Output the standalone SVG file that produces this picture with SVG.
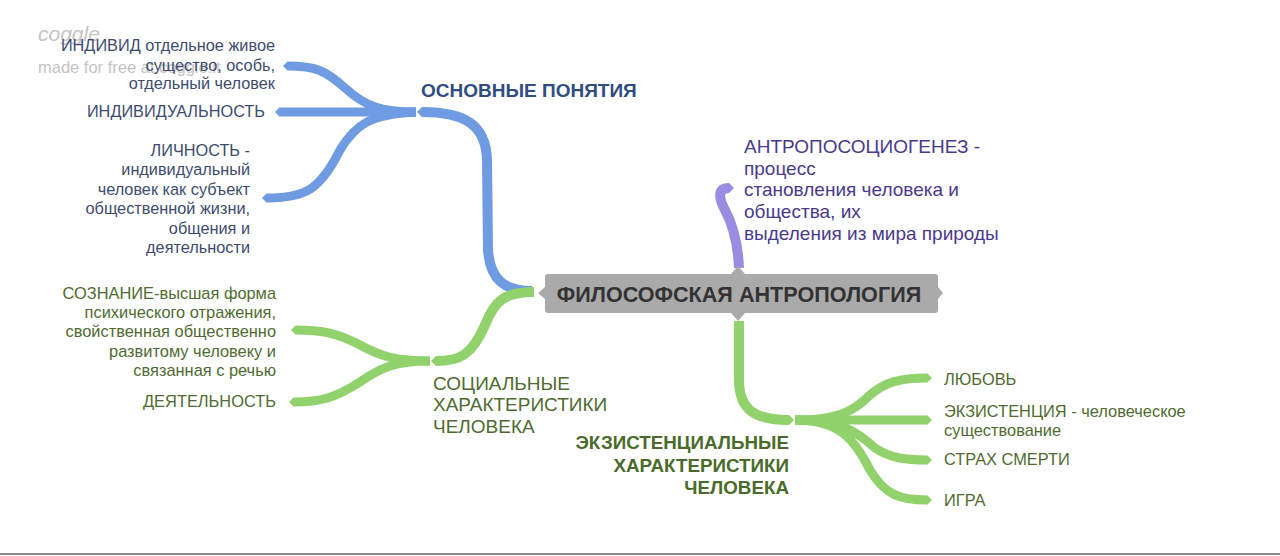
<svg xmlns="http://www.w3.org/2000/svg" width="1280" height="556" viewBox="0 0 1280 556">
<defs>
<style>
.t{font-family:"Liberation Sans",Arial,sans-serif}
.br{fill:none;stroke-linecap:butt;stroke-linejoin:round}
.blue{stroke:#6f9be2}
.green{stroke:#92d26c}
.purple{stroke:#9a8ce2}
.bt{fill:#3d4c6e;font-size:16.3px}
.gt{fill:#506b31;font-size:16.4px}
.pt{fill:#4a3a8c;font-size:19px}
.wm{fill:#c4c4c4}
</style>
<marker id="tb" markerUnits="userSpaceOnUse" markerWidth="8" markerHeight="12" refX="0" refY="6" orient="auto"><path d="M0,1 L5,6 L0,11 Z" fill="#6f9be2"/></marker>
<marker id="tg" markerUnits="userSpaceOnUse" markerWidth="8" markerHeight="12" refX="0" refY="6" orient="auto"><path d="M0,1 L5,6 L0,11 Z" fill="#92d26c"/></marker>
<marker id="tp" markerUnits="userSpaceOnUse" markerWidth="8" markerHeight="12" refX="0" refY="6" orient="auto"><path d="M0,1 L5,6 L0,11 Z" fill="#9a8ce2"/></marker>
</defs>
<rect width="1280" height="556" fill="#ffffff"/>
<g id="watermark">
<text class="t wm" x="38" y="41" font-size="21" font-style="italic" fill="#b0b0b0">coggle</text>
<text class="t wm" x="38" y="73" font-size="16.5">made for free at coggle.it</text>
</g>
<g id="connectors">
<path class="br blue" stroke-width="10" d="M532,291 C505,291 490,280 488,250 L487,160 C486,125 465,112 422,112" marker-end="url(#tb)"/>
<path class="br blue" stroke-width="9" d="M416,112 C380,112 365,106 345,88 C325,70 315,66 288,66" marker-end="url(#tb)"/>
<path class="br blue" stroke-width="9" d="M416,112 L280,112" marker-end="url(#tb)"/>
<path class="br blue" stroke-width="9" d="M416,112 C370,114 355,125 340,150 C320,190 305,198 267,198" marker-end="url(#tb)"/>
<path class="br green" stroke-width="10" d="M534,292 C505,292 495,300 485,325 C472,355 460,361 436,361" marker-end="url(#tg)"/>
<path class="br green" stroke-width="9" d="M430,361 C395,361 380,356 360,345 C335,332 320,330 296,330" marker-end="url(#tg)"/>
<path class="br green" stroke-width="9" d="M430,361 C395,361 380,368 360,382 C335,398 320,402 294,402" marker-end="url(#tg)"/>
<path class="br purple" stroke-width="10" d="M739,268 C738,245 733,225 725,210 C718,197 718,188 729,188" marker-end="url(#tp)"/>
<path class="br green" stroke-width="10" d="M739,321 L739,380 C739,410 755,420 789,420" marker-end="url(#tg)"/>
<path class="br green" stroke-width="9" d="M795,420 C840,420 855,410 870,395 C885,382 900,378 927,378" marker-end="url(#tg)"/>
<path class="br green" stroke-width="9" d="M795,420 L927,420" marker-end="url(#tg)"/>
<path class="br green" stroke-width="9" d="M795,420 C845,420 860,435 875,448 C890,458 905,460 927,460" marker-end="url(#tg)"/>
<path class="br green" stroke-width="9" d="M795,420 C840,420 855,440 870,470 C885,495 900,500 927,500" marker-end="url(#tg)"/>
</g>
<g id="central">
<path d="M548,274 H935 Q938,274 938,277 V287 L943,293 L938,299 V310 Q938,313 935,313 H745 L738,321 L731,313 H548 Q545,313 545,310 V299 L538,293 L545,287 V277 Q545,274 548,274 Z M731,274 L738,266 L745,274 Z" fill="#aaaaaa"/>
<text class="t" x="739" y="301.5" font-size="21.6" font-weight="bold" fill="#333333" text-anchor="middle">ФИЛОСОФСКАЯ АНТРОПОЛОГИЯ</text>
</g>
<g id="osnovnye">
<text class="t" x="421" y="97" font-size="19" font-weight="bold" fill="#2f4d80">ОСНОВНЫЕ ПОНЯТИЯ</text>
</g>
<g id="individ">
<text class="t bt" text-anchor="end"><tspan x="275" y="51">ИНДИВИД отдельное живое</tspan><tspan x="275" y="71">существо, особь,</tspan><tspan x="275" y="89">отдельный человек</tspan></text>
</g>
<g id="individualnost">
<text class="t bt" x="265" y="117" text-anchor="end">ИНДИВИДУАЛЬНОСТЬ</text>
</g>
<g id="lichnost">
<text class="t bt" text-anchor="end"><tspan x="250" y="156">ЛИЧНОСТЬ -</tspan><tspan x="250" y="175">индивидуальный</tspan><tspan x="250" y="195">человек как субъект</tspan><tspan x="250" y="214">общественной жизни,</tspan><tspan x="250" y="234">общения и</tspan><tspan x="250" y="253">деятельности</tspan></text>
</g>
<g id="antroposociogenez">
<text class="t pt"><tspan x="744" y="153">АНТРОПОСОЦИОГЕНЕЗ -</tspan><tspan x="744" y="175">процесс</tspan><tspan x="744" y="196">становления человека и</tspan><tspan x="744" y="218">общества, их</tspan><tspan x="744" y="240">выделения из мира природы</tspan></text>
</g>
<g id="socialnye">
<text class="t" font-size="19" fill="#506b31"><tspan x="433" y="390">СОЦИАЛЬНЫЕ</tspan><tspan x="433" y="411">ХАРАКТЕРИСТИКИ</tspan><tspan x="433" y="433">ЧЕЛОВЕКА</tspan></text>
</g>
<g id="soznanie">
<text class="t gt" text-anchor="end"><tspan x="276" y="299">СОЗНАНИЕ-высшая форма</tspan><tspan x="276" y="318">психического отражения,</tspan><tspan x="276" y="337">свойственная общественно</tspan><tspan x="276" y="357">развитому человеку и</tspan><tspan x="276" y="376">связанная с речью</tspan></text>
</g>
<g id="deyatelnost">
<text class="t gt" x="276" y="407" text-anchor="end">ДЕЯТЕЛЬНОСТЬ</text>
</g>
<g id="ekzistencialnye">
<text class="t" font-size="18.8" font-weight="bold" fill="#4a6b2a" text-anchor="end"><tspan x="789" y="449">ЭКЗИСТЕНЦИАЛЬНЫЕ</tspan><tspan x="789" y="472">ХАРАКТЕРИСТИКИ</tspan><tspan x="789" y="494">ЧЕЛОВЕКА</tspan></text>
</g>
<g id="lyubov"><text class="t gt" x="944" y="385">ЛЮБОВЬ</text></g>
<g id="ekzistenciya"><text class="t gt"><tspan x="944" y="417">ЭКЗИСТЕНЦИЯ - человеческое</tspan><tspan x="944" y="436">существование</tspan></text></g>
<g id="strakh"><text class="t gt" x="944" y="465">СТРАХ СМЕРТИ</text></g>
<g id="igra"><text class="t gt" x="944" y="506">ИГРА</text></g>
<line x1="0" y1="554" x2="1280" y2="554" stroke="#888888" stroke-width="2"/>
</svg>
